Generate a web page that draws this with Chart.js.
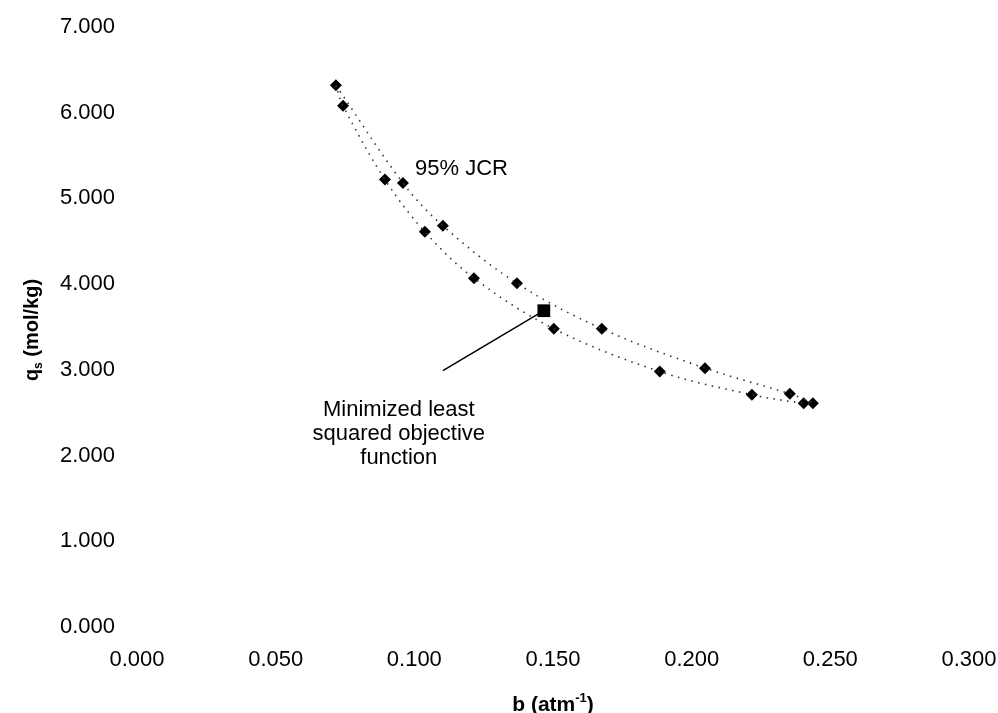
<!DOCTYPE html>
<html>
<head>
<meta charset="utf-8">
<title>95% JCR</title>
<script src="https://cdn.jsdelivr.net/npm/chart.js@4.4.1/dist/chart.umd.min.js"></script>
<style>
  body{margin:0;background:#fff;}
  #myChart{display:block;}
</style>
</head>
<body>
<canvas id="myChart" width="998" height="713"></canvas>
<script>
// puntos del contorno 95% JCR (rama superior e inferior)
const upperB = [0.0717, 0.0959, 0.1103, 0.1370, 0.1676, 0.2048, 0.2354, 0.2437];
const upperQ = [6.32, 5.18, 4.68, 4.01, 3.48, 3.02, 2.72, 2.61];
const lowerB = [0.0743, 0.0894, 0.1038, 0.1215, 0.1503, 0.1885, 0.2217, 0.2404];
const lowerQ = [6.08, 5.22, 4.61, 4.07, 3.48, 2.98, 2.71, 2.61];
// minimo de la funcion objetivo
const minB = [0.1467];
const minQ = [3.69];
// ticks
const xTicks = [0, 0.05, 0.10, 0.15, 0.20, 0.25, 0.30];
const yTicks = [0, 1, 2, 3, 4, 5, 6, 7];
// textos
const jcrLabel = '95% JCR';
const minLabel = ['Minimized least', 'squared objective', 'function'];

var FONT = "'Liberation Sans', Arial, Helvetica, sans-serif";

function pts(bs, qs){
  return bs.map((b, i) => ({x: b, y: qs[i]}));
}

// lazo cerrado: superior -> inferior al reves -> primer punto
let loop = pts(upperB, upperQ).concat(pts(lowerB, lowerQ).reverse());
loop.push({x: upperB[0], y: upperQ[0]});

const labelsPlugin = {
  id: 'labelsPlugin',
  afterDraw(chart){
    const ctx = chart.ctx;
    const xs = chart.scales.x, ys = chart.scales.y;
    const area = chart.chartArea;
    ctx.save();
    ctx.fillStyle = '#000';

    // linea indicadora al minimo
    ctx.strokeStyle = '#000';
    ctx.lineWidth = 1.5;
    ctx.beginPath();
    ctx.moveTo(xs.getPixelForValue(minB[0]), ys.getPixelForValue(minQ[0]));
    ctx.lineTo(xs.getPixelForValue(0.1103), ys.getPixelForValue(2.99));
    ctx.stroke();

    // 95% JCR
    ctx.font = '22px ' + FONT;
    ctx.textAlign = 'center';
    ctx.textBaseline = 'alphabetic';
    ctx.fillText(jcrLabel, xs.getPixelForValue(0.117), ys.getPixelForValue(5.27));

    // texto del minimo
    let mx = xs.getPixelForValue(0.0944);
    let my = ys.getPixelForValue(2.46);
    minLabel.forEach((t, i) => {
      ctx.fillText(t, mx, my + i * 24);
    });

    // titulo eje x: b (atm^-1)
    let cx = (area.left + area.right) / 2;
    let by = area.bottom + 84;
    let p1 = 'b (atm', p2 = '-1', p3 = ')';
    ctx.font = 'bold 21px ' + FONT;
    let w1 = ctx.measureText(p1).width, w3 = ctx.measureText(p3).width;
    ctx.font = 'bold 13px ' + FONT;
    let w2 = ctx.measureText(p2).width;
    let sx = cx - (w1 + w2 + w3) / 2;
    ctx.textAlign = 'left';
    ctx.font = 'bold 21px ' + FONT;
    ctx.fillText(p1, sx, by);
    ctx.font = 'bold 13px ' + FONT;
    ctx.fillText(p2, sx + w1, by - 9);
    ctx.font = 'bold 21px ' + FONT;
    ctx.fillText(p3, sx + w1 + w2, by);

    // titulo eje y: q_s (mol/kg)
    ctx.translate(38, (area.top + area.bottom) / 2 + 3);
    ctx.rotate(-Math.PI / 2);
    let q1 = 'q', q2 = 's', q3 = ' (mol/kg)';
    ctx.font = 'bold 20px ' + FONT;
    let v1 = ctx.measureText(q1).width, v3 = ctx.measureText(q3).width;
    ctx.font = 'bold 12px ' + FONT;
    let v2 = ctx.measureText(q2).width;
    let sy = -(v1 + v2 + v3) / 2;
    ctx.font = 'bold 20px ' + FONT;
    ctx.fillText(q1, sy, 0);
    ctx.font = 'bold 12px ' + FONT;
    ctx.fillText(q2, sy + v1, 4);
    ctx.font = 'bold 20px ' + FONT;
    ctx.fillText(q3, sy + v1 + v2, 0);
    ctx.restore();
  }
};

var ctx = document.getElementById('myChart').getContext('2d');
var myChart = new Chart(ctx, {
  type: 'scatter',
  data: {
    datasets: [{
      label: 'JCR',
      data: loop,
      showLine: true,
      tension: 0.35,
      borderColor: '#333',
      borderWidth: 1.6,
      borderDash: [1.5, 5.5],
      pointRadius: 0,
      fill: false
    },{
      label: 'upper',
      data: pts(upperB, upperQ),
      pointStyle: 'rectRot',
      pointRadius: 6,
      backgroundColor: '#000',
      borderColor: '#000',
      borderWidth: 0
    },{
      label: 'lower',
      data: pts(lowerB, lowerQ),
      pointStyle: 'rectRot',
      pointRadius: 6,
      backgroundColor: '#000',
      borderColor: '#000',
      borderWidth: 0
    },{
      label: 'min',
      data: pts(minB, minQ),
      pointStyle: 'rect',
      pointRadius: 9,
      backgroundColor: '#000',
      borderColor: '#000',
      borderWidth: 0
    }]
  },
  options: {
    responsive: false,
    animation: false,
    events: [],
    layout: {padding: {left: 0, right: 29, top: 27, bottom: 0}},
    plugins: {
      legend: {display: false},
      tooltip: {enabled: false}
    },
    scales: {
      x: {
        type: 'linear',
        min: xTicks[0],
        max: xTicks[xTicks.length - 1],
        afterBuildTicks: s => { s.ticks = xTicks.map(v => ({value: v})); },
        afterFit: s => { s.height = 86; s.paddingLeft = 0; s.paddingRight = 0; },
        grid: {display: false, drawTicks: false},
        border: {display: false},
        ticks: {
          padding: 20,
          color: '#000',
          maxRotation: 0,
          font: {family: FONT, size: 22},
          callback: v => Number(v).toFixed(3)
        }
      },
      y: {
        type: 'linear',
        min: yTicks[0],
        max: yTicks[yTicks.length - 1],
        afterBuildTicks: s => { s.ticks = yTicks.map(v => ({value: v})); },
        afterFit: s => { s.width = 137; s.paddingTop = 0; s.paddingBottom = 0; },
        grid: {display: false, drawTicks: false},
        border: {display: false},
        ticks: {
          padding: 22,
          color: '#000',
          font: {family: FONT, size: 22},
          callback: v => Number(v).toFixed(3)
        }
      }
    }
  },
  plugins: [labelsPlugin]
});
</script>
</body>
</html>
